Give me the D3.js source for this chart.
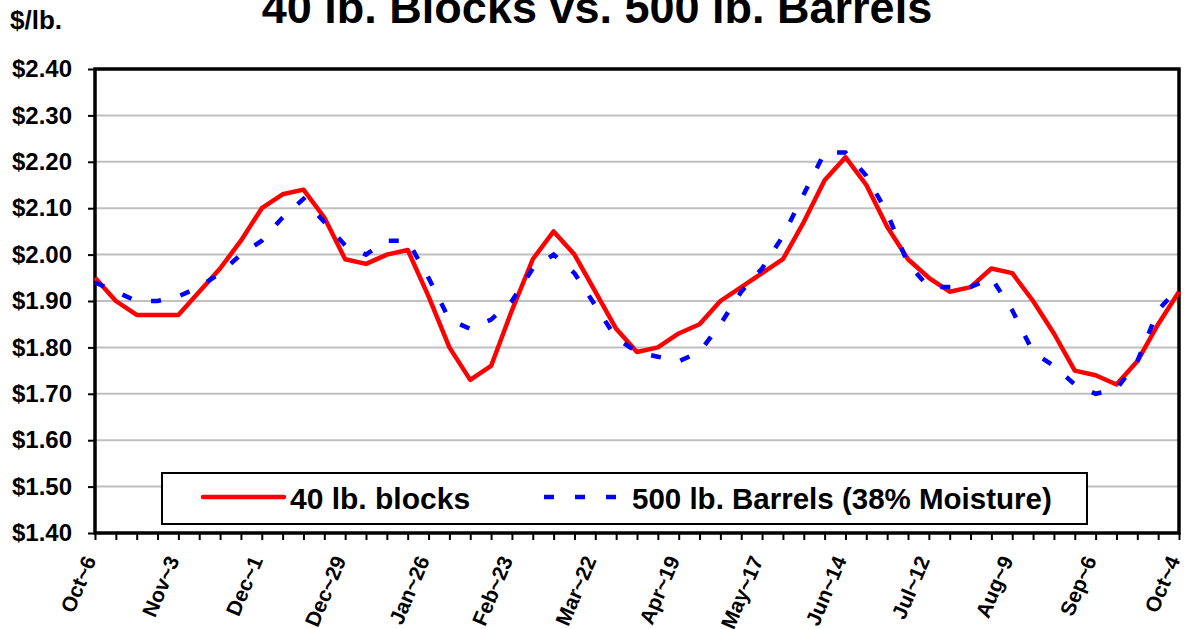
<!DOCTYPE html>
<html>
<head>
<meta charset="utf-8">
<script src="https://cdn.jsdelivr.net/npm/d3@7"></script>
<style>
  body { margin: 0; background: #fff; }
  text { font-family: "Liberation Sans", Arial, sans-serif; font-weight: bold; fill: #000; }
</style>
</head>
<body>
<svg id="chart" width="1184" height="629"></svg>
<script>
// weekly dates, first to last
const weeks = [
  "Oct~6", "Oct~13", "Oct~20", "Oct~27", "Nov~3", "Nov~10", "Nov~17", "Nov~24",
  "Dec~1", "Dec~8", "Dec~15", "Dec~22", "Dec~29", "Jan~5", "Jan~12", "Jan~19",
  "Jan~26", "Feb~2", "Feb~9", "Feb~16", "Feb~23", "Mar~1", "Mar~8", "Mar~15",
  "Mar~22", "Mar~29", "Apr~5", "Apr~12", "Apr~19", "Apr~26", "May~3", "May~10",
  "May~17", "May~24", "May~31", "Jun~7", "Jun~14", "Jun~21", "Jun~28", "Jul~5",
  "Jul~12", "Jul~19", "Jul~26", "Aug~2", "Aug~9", "Aug~16", "Aug~23", "Aug~30",
  "Sep~6", "Sep~13", "Sep~20", "Sep~27", "Oct~4"
];

// 40 lb. blocks, $/lb.
const blocks = [
  1.95, 1.90, 1.87, 1.87, 1.87, 1.92, 1.97, 2.03, 2.10, 2.13, 2.14, 2.08, 1.99,
  1.98, 2.00, 2.01, 1.91, 1.80, 1.73, 1.76, 1.88, 1.99, 2.05, 2.00, 1.92, 1.84,
  1.79, 1.80, 1.83, 1.85, 1.90, 1.93, 1.96, 1.99, 2.07, 2.16, 2.21, 2.15, 2.06,
  1.99, 1.95, 1.92, 1.93, 1.97, 1.96, 1.90, 1.83, 1.75, 1.74, 1.72, 1.77, 1.85,
  1.92
];

// 500 lb. barrels (38% moisture), $/lb.
const barrels = [
  1.94, 1.92, 1.90, 1.90, 1.91, 1.93, 1.96, 2.00, 2.03, 2.08, 2.12, 2.07, 2.02,
  2.00, 2.03, 2.03, 1.95, 1.86, 1.84, 1.86, 1.90, 1.97, 2.00, 1.96, 1.89, 1.82,
  1.79, 1.78, 1.77, 1.79, 1.85, 1.92, 1.97, 2.04, 2.13, 2.22, 2.22, 2.17, 2.09,
  1.98, 1.93, 1.93, 1.93, 1.95, 1.88, 1.79, 1.76, 1.72, 1.70, 1.71, 1.77, 1.88,
  1.93
];

const yTicks = [1.40, 1.50, 1.60, 1.70, 1.80, 1.90, 2.00, 2.10, 2.20, 2.30, 2.40];

const seriesNames = ["40 lb. blocks", "500 lb. Barrels (38% Moisture)"];

const plotLeft = 95, plotRight = 1179, plotTop = 69, plotBottom = 533;

const svg = d3.select("#chart");

const x = d3.scalePoint()
  .domain(weeks)
  .range([plotLeft, plotRight]);

const y = d3.scaleLinear()
  .domain([1.40, 2.40])
  .range([plotBottom, plotTop]);

// title + unit (title runs off the top edge, as in the source image)
svg.append("text")
  .attr("x", 597)
  .attr("y", 23)
  .attr("text-anchor", "middle")
  .attr("font-size", 45)
  .text("40 lb. Blocks vs. 500 lb. Barrels");

svg.append("text")
  .attr("x", 10)
  .attr("y", 29)
  .attr("font-size", 26)
  .text("$/lb.");

// gridlines
svg.append("g")
  .selectAll("line")
  .data(yTicks.slice(1, -1))
  .join("line")
  .attr("x1", plotLeft)
  .attr("x2", plotRight)
  .attr("y1", d => y(d))
  .attr("y2", d => y(d))
  .attr("stroke", "#c0c0c0")
  .attr("stroke-width", 2);

// y axis
const yAxis = svg.append("g")
  .attr("transform", `translate(${plotLeft},0)`)
  .call(d3.axisLeft(y)
    .tickValues(yTicks)
    .tickFormat(d3.format("$.2f"))
    .tickSize(7)
    .tickSizeOuter(0)
    .tickPadding(16));

yAxis.select(".domain").remove();
yAxis.selectAll("line").attr("stroke", "#000").attr("stroke-width", 2);
yAxis.selectAll("text")
  .attr("font-size", 24)
  .attr("font-family", "'Liberation Sans', Arial, sans-serif")
  .attr("font-weight", "bold");

// x axis, a tick every week, label every 4th
const xAxis = svg.append("g")
  .attr("transform", `translate(0,${plotBottom})`)
  .call(d3.axisBottom(x)
    .tickSize(7)
    .tickSizeOuter(0)
    .tickFormat((d, i) => i % 4 === 0 ? d : ""));

xAxis.select(".domain").remove();
xAxis.selectAll("line").attr("stroke", "#000").attr("stroke-width", 2);
xAxis.selectAll("text")
  .attr("x", 0)
  .attr("y", 0)
  .attr("dy", 0)
  .attr("text-anchor", "end")
  .attr("transform", "translate(1,27) rotate(-67)")
  .attr("font-size", 21)
  .attr("font-family", "'Liberation Sans', Arial, sans-serif")
  .attr("font-weight", "bold");

// plot border
svg.append("rect")
  .attr("x", plotLeft)
  .attr("y", plotTop)
  .attr("width", plotRight - plotLeft)
  .attr("height", plotBottom - plotTop)
  .attr("fill", "none")
  .attr("stroke", "#000")
  .attr("stroke-width", 3.5);

// lines
const line = d3.line()
  .x((d, i) => x(weeks[i]))
  .y(d => y(d));

svg.append("path")
  .datum(blocks)
  .attr("d", line)
  .attr("fill", "none")
  .attr("stroke", "#ff0000")
  .attr("stroke-width", 4.5)
  .attr("stroke-linejoin", "round");

svg.append("path")
  .datum(barrels)
  .attr("d", line)
  .attr("fill", "none")
  .attr("stroke", "#0000ff")
  .attr("stroke-width", 4.5)
  .attr("stroke-dasharray", "10 20");

// legend
const legend = svg.append("g");

legend.append("rect")
  .attr("x", 162)
  .attr("y", 473)
  .attr("width", 925)
  .attr("height", 51)
  .attr("fill", "#fff")
  .attr("stroke", "#000")
  .attr("stroke-width", 2);

legend.append("line")
  .attr("x1", 203).attr("x2", 284)
  .attr("y1", 497).attr("y2", 497)
  .attr("stroke", "#ff0000")
  .attr("stroke-width", 4.5)
  .attr("stroke-linecap", "round");

legend.append("text")
  .attr("x", 290)
  .attr("y", 509)
  .attr("font-size", 30)
  .text(seriesNames[0]);

legend.append("line")
  .attr("x1", 544).attr("x2", 616)
  .attr("y1", 497).attr("y2", 497)
  .attr("stroke", "#0000ff")
  .attr("stroke-width", 4.5)
  .attr("stroke-dasharray", "10 21");

legend.append("text")
  .attr("x", 632)
  .attr("y", 509)
  .attr("font-size", 29.5)
  .text(seriesNames[1]);
</script>
</body>
</html>
